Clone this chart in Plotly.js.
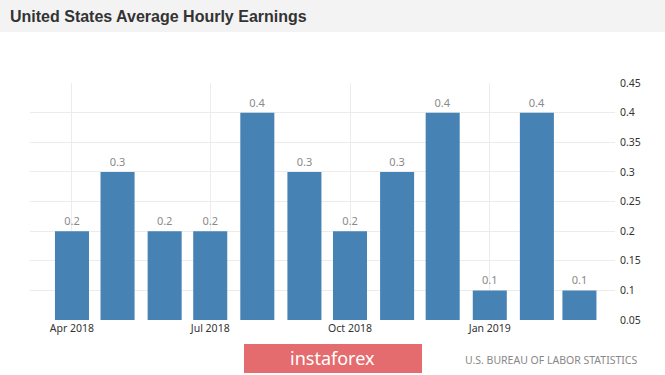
<!DOCTYPE html>
<html>
<head>
<meta charset="utf-8">
<script src="https://cdn.plot.ly/plotly-3.0.1.min.js"></script>
<style>
html,body{margin:0;padding:0;background:#fff;}
#chart{width:665px;height:375px;}
</style>
</head>
<body>
<div id="chart"></div>
<script>
var months = ['2018-04-01','2018-05-01','2018-06-01','2018-07-01','2018-08-01','2018-09-01',
              '2018-10-01','2018-11-01','2018-12-01','2019-01-01','2019-02-01','2019-03-01'];
var values = [0.2, 0.3, 0.2, 0.2, 0.4, 0.3, 0.2, 0.3, 0.4, 0.1, 0.4, 0.1];
var valueLabels = ['0.2','0.3','0.2','0.2','0.4','0.3','0.2','0.3','0.4','0.1','0.4','0.1'];
var xTickVals = ['2018-04-01','2018-07-01','2018-10-01','2019-01-01'];
var xTickText = ['Apr 2018','Jul 2018','Oct 2018','Jan 2019'];
var yTickVals = [0.05,0.1,0.15,0.2,0.25,0.3,0.35,0.4,0.45];
var yTickText = ['0.05','0.1','0.15','0.2','0.25','0.3','0.35','0.4','0.45'];

var DAY = 86400000;
var trace = {
  type: 'bar',
  x: months,
  y: values,
  width: months.map(function(){return 22.4*DAY;}),
  marker: {color: '#4682b4'},
  text: valueLabels,
  textposition: 'outside',
  cliponaxis: false,
  textfont: {family: 'Noto Sans, sans-serif', size: 11, color: '#8a8a8a'},
  hoverinfo: 'none'
};

var layout = {
  width: 665, height: 375,
  margin: {l: 30, r: 50, t: 83, b: 55},
  paper_bgcolor: '#ffffff',
  plot_bgcolor: '#ffffff',
  showlegend: false,
  title: {
    text: '<b>United States Average Hourly Earnings</b>',
    font: {family: 'Liberation Sans, Arial, sans-serif', size: 16, color: '#333333'},
    x: 10/665, xref: 'container', xanchor: 'left',
    y: 0.955, yref: 'container', yanchor: 'middle'
  },
  xaxis: {
    type: 'date',
    range: ['2018-03-04 09:00', '2019-03-24 10:00'],
    tickmode: 'array', tickvals: xTickVals, ticktext: xTickText,
    showgrid: true, gridcolor: '#ececec', gridwidth: 1,
    zeroline: false, showline: false, ticks: '',
    tickfont: {family: 'Noto Sans, sans-serif', size: 10.5, color: '#333333'},
    fixedrange: true
  },
  yaxis: {
    side: 'right',
    range: [0.05, 0.45],
    tickmode: 'array', tickvals: yTickVals, ticktext: yTickText,
    showgrid: true, gridcolor: '#ececec', gridwidth: 1,
    zeroline: false, showline: false, ticks: '',
    ticklabelstandoff: 4,
    tickfont: {family: 'Noto Sans, sans-serif', size: 10.5, color: '#333333'},
    fixedrange: true
  },
  shapes: [
    {type: 'rect', xref: 'paper', yref: 'paper', layer: 'below',
     x0: -30/585, x1: 635/585, y0: (320-32)/237, y1: 320/237,
     fillcolor: '#f3f3f3', line: {width: 0}},
    {type: 'rect', xref: 'paper', yref: 'paper', layer: 'above',
     x0: (244-30)/585, x1: (422-30)/585, y0: (320-373)/237, y1: (320-344)/237,
     fillcolor: '#e46c6e', line: {width: 0}}
  ],
  annotations: [
    {text: 'instaforex', xref: 'paper', yref: 'paper', showarrow: false,
     x: (332-30)/585, y: (320-358)/237, xanchor: 'center', yanchor: 'middle',
     font: {family: 'Noto Sans, sans-serif', size: 18, color: '#ffffff'}},
    {text: 'U.S. BUREAU OF LABOR STATISTICS', xref: 'paper', yref: 'paper', showarrow: false,
     x: (463-30)/585, y: (320-360)/237, xanchor: 'left', yanchor: 'middle',
     font: {family: 'Noto Sans, sans-serif', size: 10.5, color: '#888888'}}
  ]
};

Plotly.newPlot('chart', [trace], layout, {displayModeBar: false, staticPlot: true});
</script>
</body>
</html>
